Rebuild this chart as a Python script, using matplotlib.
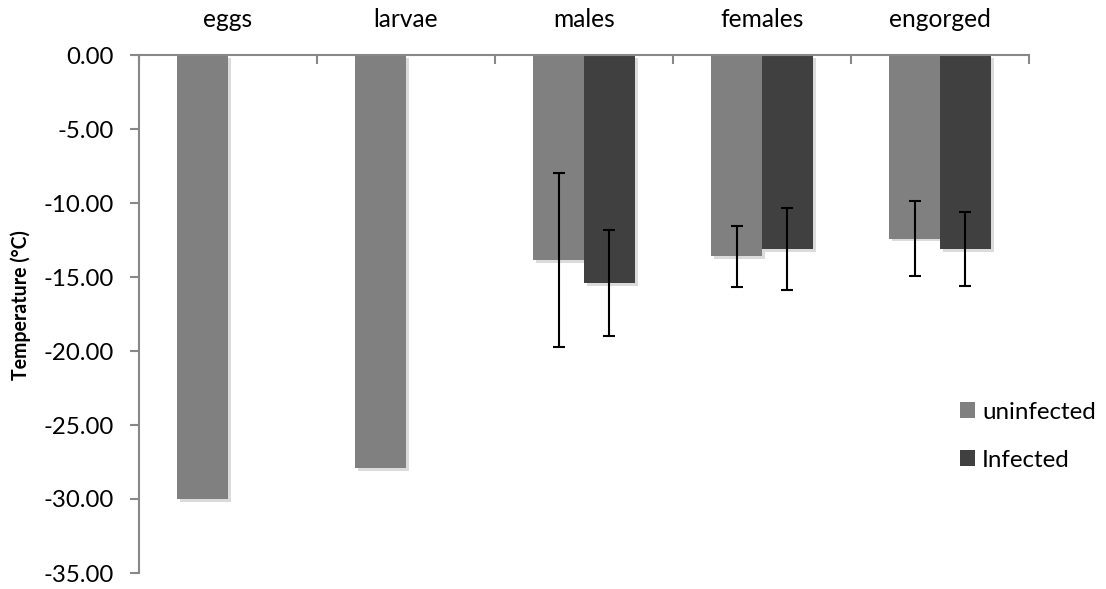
import numpy as np
import matplotlib
matplotlib.use("Agg")
import matplotlib.pyplot as plt
import matplotlib.patheffects as pe
from matplotlib.patches import Patch
from matplotlib.font_manager import FontProperties

categories = ["eggs", "larvae", "males", "females", "engorged"]
uninfected = [-30.0, -27.9, -13.85, -13.6, -12.4]
infected = [np.nan, np.nan, -15.4, -13.1, -13.1]
uninfected_err = [np.nan, np.nan, 5.88, 2.07, 2.53]
infected_err = [np.nan, np.nan, 3.6, 2.77, 2.5]
yticks = [0, -5, -10, -15, -20, -25, -30, -35]
series_names = ["uninfected", "Infected"]

plt.rcParams["font.family"] = ["Lato", "DejaVu Sans"]
plt.rcParams["axes.unicode_minus"] = False

c_un = "#808080"
c_in = "#404040"
axis_c = "#888888"
W, H, DPI = 1106, 589, 100
PT = DPI / 72.0

fig = plt.figure(figsize=(W / DPI, H / DPI), dpi=DPI)
renderer = fig.canvas.get_renderer()


def fit_size(s, target_px, weight="normal"):
    t = fig.text(0, 0, s, fontsize=10, fontweight=weight)
    wpx = t.get_window_extent(renderer=renderer).width
    t.remove()
    return 10 * target_px / wpx


fs_tick = fit_size("-20.00", 70)
fs_cat = fit_size("engorged", 102)
fs_leg = fit_size("uninfected", 114)
fs_ylab = fit_size("Temperature (°C)", 150, "bold")

ax = fig.add_axes([139 / W, 1 - 573 / H, 890 / W, 518 / H])

x = np.arange(len(categories))
w = 1 / 3.5
shadow = [pe.SimplePatchShadow(offset=(2, -2), shadow_rgbFace="#999999", alpha=0.35), pe.Normal()]
b1 = ax.bar(x - w / 2, uninfected, w, color=c_un, zorder=2, label=series_names[0])
b2 = ax.bar(x + w / 2, infected, w, color=c_in, zorder=2, label=series_names[1])
for b in list(b1) + list(b2):
    b.set_path_effects(shadow)

ax.errorbar(x - w / 2, uninfected, yerr=uninfected_err, fmt="none", ecolor="black",
            elinewidth=1.5, capsize=4.3, capthick=1.5, zorder=3)
ax.errorbar(x + w / 2, infected, yerr=infected_err, fmt="none", ecolor="black",
            elinewidth=1.5, capsize=4.3, capthick=1.5, zorder=3)

ax.set_xlim(-0.5, len(categories) - 0.5)
ax.set_ylim(-35, 0)
ax.set_yticks(yticks)
ax.set_yticklabels([f"{v:.2f}" for v in yticks], fontsize=fs_tick)
tick_len = 9 / PT
ax.tick_params(axis="y", direction="out", length=tick_len, width=1.5, color=axis_c,
               pad=(130 - 114) / PT)

# category labels on top: baseline at y=27 px from top
fp = FontProperties(family=["Lato", "DejaVu Sans"], size=fs_cat)
_, _, d_lp = renderer.get_text_width_height_descent("lp", fp, ismath=False)
ax.xaxis.tick_top()
ax.set_xticks(x)
ax.set_xticklabels(categories, fontsize=fs_cat)
ax.tick_params(axis="x", which="major", length=0, pad=(55 - 27 - d_lp) / PT)
ax.set_xticks(np.arange(len(categories) + 1) - 0.5, minor=True)
ax.tick_params(axis="x", which="minor", direction="in", length=tick_len, width=1.5,
               color=axis_c, top=True, bottom=False)

for s in ["bottom", "right"]:
    ax.spines[s].set_visible(False)
for s in ["left", "top"]:
    ax.spines[s].set_color(axis_c)
    ax.spines[s].set_linewidth(1.5)

ylab = ax.set_ylabel("Temperature (°C)", fontsize=fs_ylab, fontweight="bold")
ax.yaxis.set_label_coords((31 - 139) / 890, (573 - 305) / 518)

# legend
Fpx = fs_leg * PT
hsz = 15 / Fpx
handles = [Patch(facecolor=c_un, label=series_names[0]), Patch(facecolor=c_in, label=series_names[1])]


def make_legend(ls, anchor):
    return fig.legend(handles=handles, loc="upper left", bbox_to_anchor=anchor,
                      frameon=False, fontsize=fs_leg, handlelength=hsz, handleheight=hsz,
                      handletextpad=7 / Fpx, labelspacing=ls, borderaxespad=0, borderpad=0)


ls = 1.0
anchor = (960 / W, 1 - 400 / H)
leg = make_legend(ls, anchor)
fig.canvas.draw()
p0, p1 = leg.get_patches()
d = p0.get_window_extent(renderer).y0 - p1.get_window_extent(renderer).y0
leg.remove()
ls = ls + (48 - d) / Fpx
leg = make_legend(ls, anchor)
fig.canvas.draw()
bb = leg.get_patches()[0].get_window_extent(renderer)
dx = 960 - bb.x0
dy = (H - 418) - bb.y0
leg.set_bbox_to_anchor((anchor[0] + dx / W, anchor[1] + dy / H), transform=fig.transFigure)

fig.savefig("out.png", dpi=DPI)
